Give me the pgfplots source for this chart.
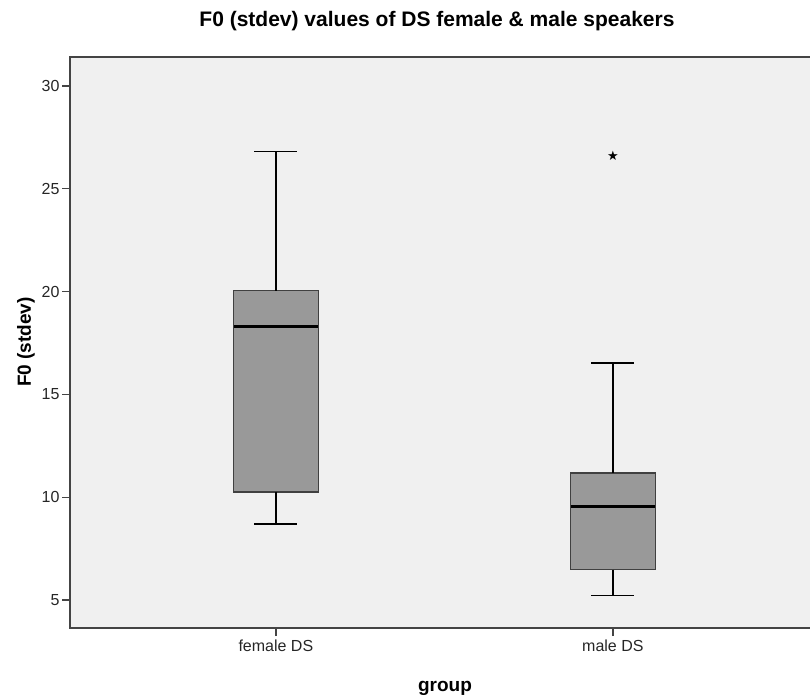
\documentclass[border=0pt]{standalone}
\usepackage{pgfplots}
\pgfplotsset{compat=1.18}
\usepackage{fontspec}
\setmainfont{Liberation Sans}
\newfontfamily\djv{DejaVu Sans}
\definecolor{bgc}{HTML}{F0F0F0}
\definecolor{boxc}{HTML}{999999}
\definecolor{axc}{HTML}{444444}
\begin{document}
\begin{tikzpicture}
\path[use as bounding box] (0pt,0pt) rectangle (810pt,698pt);
\begin{axis}[
 at={(70pt,70pt)}, anchor=south west,
 scale only axis, width=742pt, height=571pt,
 xmin=0.389, xmax=2.591, ymin=3.64, ymax=31.41,
 xtick={1,2}, xticklabels={female DS, male DS},
 ytick={5,10,...,30},
 tick align=outside, xtick pos=left, ytick pos=left,
 major tick length=8pt,
 axis line style={axc, line width=1.3pt},
 tick style={axc, line width=1.3pt},
 axis background/.style={fill=bgc},
 ticklabel style={font=\fontsize{16}{18}\selectfont, text=black!85},
 yticklabel style={xshift=1pt},
 /pgf/number format/assume math mode=true,
 clip=false,
]
% ---- female DS
\addplot[fill=boxc, draw=black!75, line width=1.3pt, line join=miter] coordinates {(1,10.26) (1.126,10.26) (1.126,20.04) (0.874,20.04) (0.874,10.26) (1,10.26)};
\addplot[black, line width=1.6pt] coordinates {(1,20.04) (1,26.81)};
\addplot[black, line width=1.6pt] coordinates {(0.9365,26.81) (1.0635,26.81)};
\addplot[black, line width=1.6pt] coordinates {(1,10.26) (1,8.70)};
\addplot[black, line width=1.6pt] coordinates {(0.9365,8.70) (1.0635,8.70)};
\addplot[black, line width=3pt] coordinates {(0.876,18.30) (1.124,18.30)};
% ---- male DS
\addplot[fill=boxc, draw=black!75, line width=1.3pt, line join=miter] coordinates {(2,6.47) (2.126,6.47) (2.126,11.18) (1.874,11.18) (1.874,6.47) (2,6.47)};
\addplot[black, line width=1.6pt] coordinates {(2,11.18) (2,16.54)};
\addplot[black, line width=1.6pt] coordinates {(1.9365,16.54) (2.0635,16.54)};
\addplot[black, line width=1.6pt] coordinates {(2,6.47) (2,5.23)};
\addplot[black, line width=1.6pt] coordinates {(1.9365,5.23) (2.0635,5.23)};
\addplot[black, line width=3pt] coordinates {(1.876,9.53) (2.124,9.53)};
% outlier
\addplot[only marks, mark=text, text mark={\djv\fontsize{13}{14}\selectfont ★}, mark options={black!85}] coordinates {(2,26.6)};
\end{axis}
\node[font=\bfseries\fontsize{21}{24}\selectfont] at (437pt,677pt) {F0 (stdev) values of DS female \& male speakers};
\node[font=\bfseries\fontsize{19}{22}\selectfont] at (445pt,10pt) {group};
\node[font=\bfseries\fontsize{19}{22}\selectfont, rotate=90] at (26pt,356pt) {F0 (stdev)};
\end{tikzpicture}
\end{document}
